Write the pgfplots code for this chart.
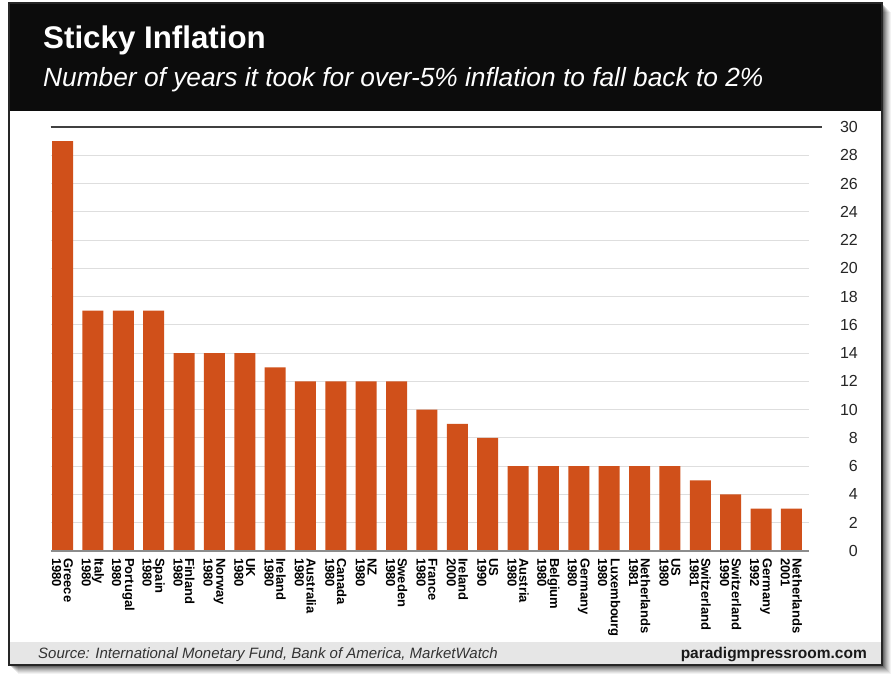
\documentclass[border=0pt]{standalone}
\usepackage{fontspec}
\setmainfont{Liberation Sans}
\usepackage{pgfplots}
\pgfplotsset{compat=1.18}
\definecolor{barc}{RGB}{208,80,26}
\definecolor{headblack}{RGB}{12,12,12}
\definecolor{footgray}{RGB}{230,230,230}
\definecolor{gridc}{RGB}{222,222,222}
\begin{document}
\begin{tikzpicture}
\useasboundingbox (0pt,0pt) rectangle (891pt,675pt);
\fill[white] (0pt,0pt) rectangle (891pt,675pt);
\foreach \i/\o in {9/0.05,8/0.06,7/0.07,6/0.08,5/0.1,4/0.12,3/0.15,2/0.18} {
  \fill[black,opacity=\o] ({(9+\i)*1pt},{(10-\i)*1pt}) rectangle ({(882+\i)*1pt},{(672-\i)*1pt});
}
\fill[white] (9pt,10pt) rectangle (882pt,672pt);
\fill[footgray] (9pt,10pt) rectangle (882pt,33pt);
\fill[headblack] (9pt,564pt) rectangle (882pt,672pt);
\draw[line width=1.2pt, black!85] (9pt,10pt) rectangle (882pt,672pt);
\node[anchor=base west, inner sep=0, text=white, font=\fontsize{31.3}{36}\selectfont\bfseries] at (43pt,626pt) {Sticky Inflation};
\node[anchor=base west, inner sep=0, text=white, font=\fontsize{26.3}{30}\selectfont\itshape] at (43pt,588pt) {Number of years it took for over-5\% inflation to fall back to 2\%};
\node[anchor=base west, inner sep=0, text=black!80, font=\fontsize{15}{18}\selectfont\itshape] at (38pt,17pt) {Source: International Monetary Fund, Bank of America, MarketWatch};
\node[anchor=base east, inner sep=0, text=black!90, font=\fontsize{15.5}{18}\selectfont\bfseries] at (867pt,17pt) {paradigmpressroom.com};
\begin{axis}[
  at={(50.7pt,124pt)}, anchor=south west,
  scale only axis, width=758.3pt, height=424pt,
  xmin=-0.39, xmax=24.58, ymin=0, ymax=30,
  ytick={0,2,...,30},
  yticklabel pos=right,
  major tick length=0pt,
  axis line style={draw=none},
  ymajorgrids, grid style={gridc, line width=1pt},
  /pgf/number format/assume math mode=true,
  yticklabel style={anchor=east, inner sep=0pt, xshift=49pt, font=\fontsize{16}{18}\selectfont, text=black!85},
  xtick=data,
  xticklabels={{Greece\\1980},{Italy\\1980},{Portugal\\1980},{Spain\\1980},{Finland\\1980},{Norway\\1980},{UK\\1980},{Ireland\\1980},{Australia\\1980},{Canada\\1980},{NZ\\1980},{Sweden\\1980},{France\\1980},{Ireland\\2000},{US\\1990},{Austria\\1980},{Belgium\\1980},{Germany\\1980},{Luxembourg\\1980},{Netherlands\\1981},{US\\1980},{Switzerland\\1981},{Switzerland\\1990},{Germany\\1992},{Netherlands\\2001}},
  xticklabel style={rotate=-90, anchor=west, align=left, inner xsep=7pt, inner ysep=0pt, font=\fontsize{13}{11.7}\selectfont\bfseries, text=black},
  clip=false,
]
\addplot[ybar, bar width=21pt, fill=barc, draw=none] coordinates {
(0,29) (1,17) (2,17) (3,17) (4,14) (5,14) (6,14) (7,13) (8,12) (9,12) (10,12) (11,12) (12,10) (13,9) (14,8) (15,6) (16,6) (17,6) (18,6) (19,6) (20,6) (21,5) (22,4) (23,3) (24,3)
};
\draw[black!75, line width=1.2pt] (rel axis cs:0,1) -- ([xshift=13pt]rel axis cs:1,1);
\draw[black!45, line width=1.5pt] (rel axis cs:0,0) -- (rel axis cs:1,0);
\end{axis}
\end{tikzpicture}
\end{document}
